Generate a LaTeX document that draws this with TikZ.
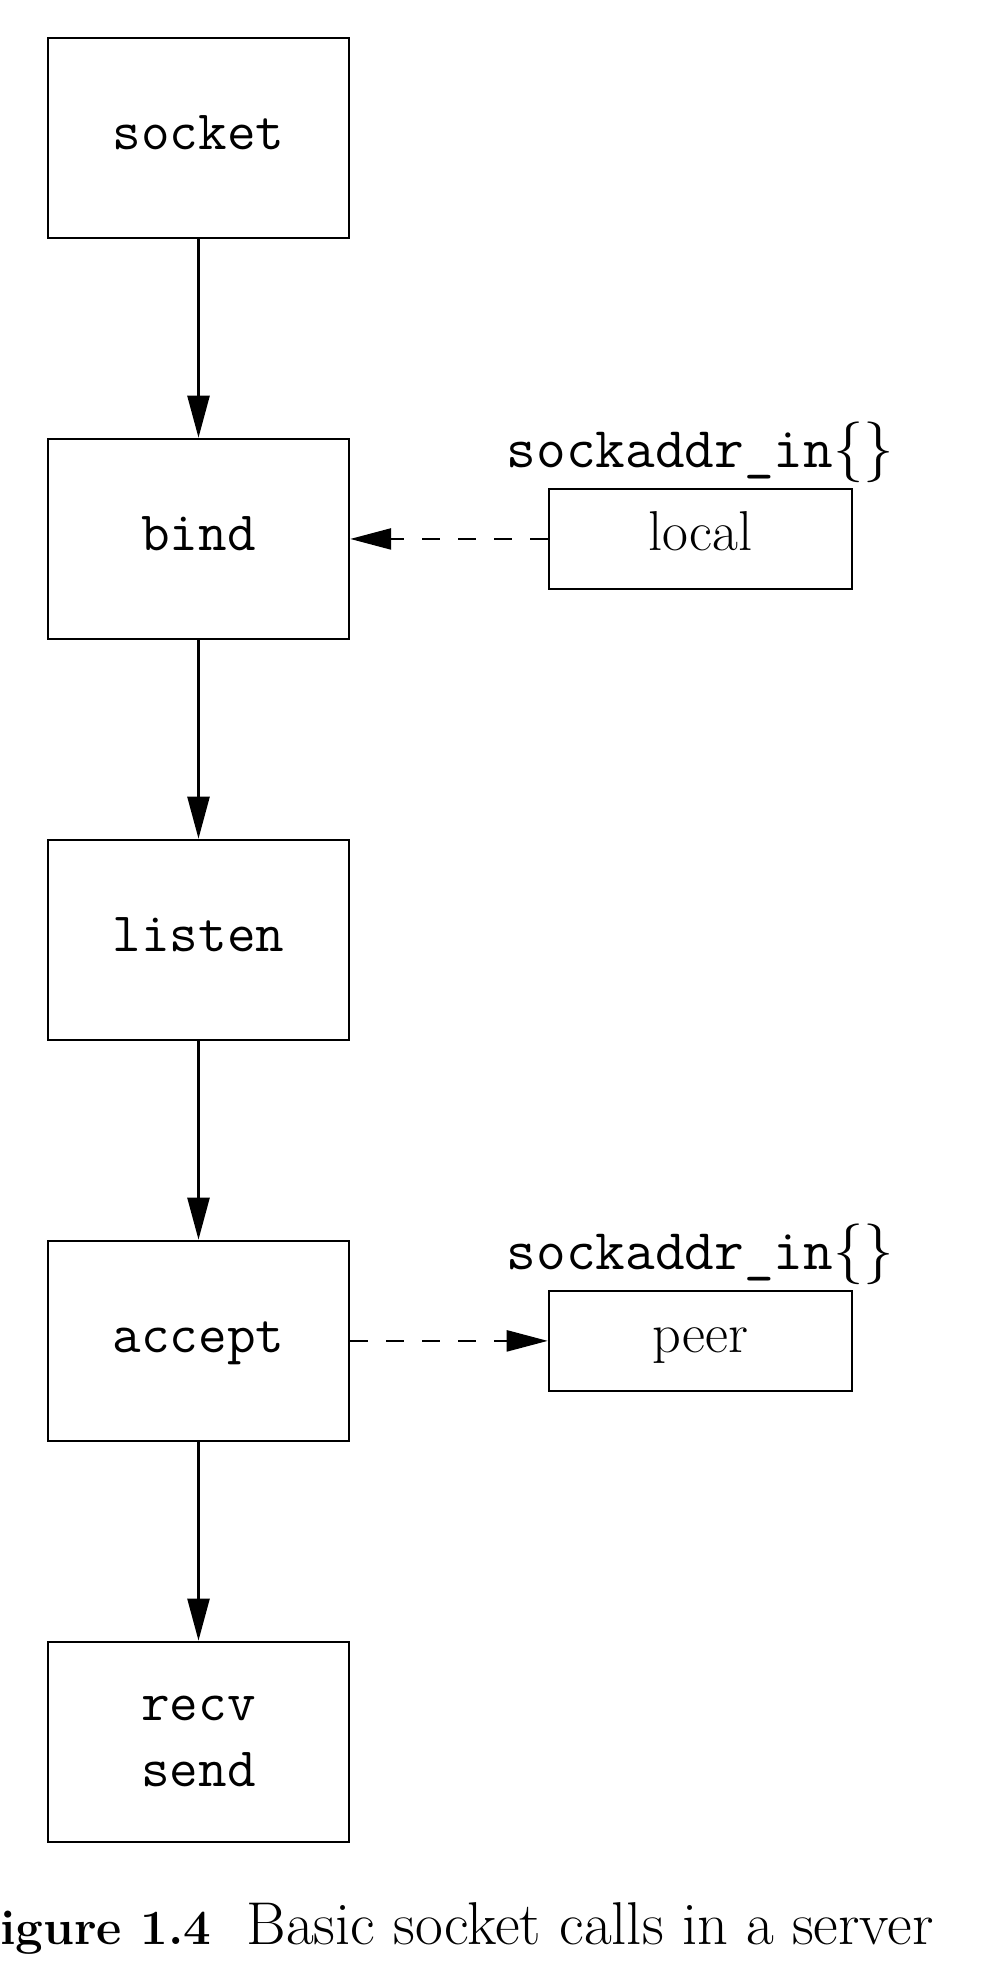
\documentclass[tikz,border=0pt]{standalone}
\usepackage{xcolor}
\usepackage{tikz}
\usetikzlibrary{arrows.meta,positioning}
\definecolor{lineblack}{RGB}{0,0,0}

\begin{document}
\begin{tikzpicture}[
  node distance=1.985cm,
  callbox/.style={draw=lineblack, line width=0.7pt, minimum width=3.01cm, minimum height=2cm, inner sep=0pt, align=center, font=\fontsize{15.8}{18.8}\selectfont\ttfamily},
  oneline/.style={text height=0.36cm, text depth=0.12cm},
  addrbox/.style={draw=lineblack, line width=0.7pt, minimum width=3.03cm, minimum height=1cm, inner sep=0pt, text height=0.35cm, text depth=0.11cm, font=\fontsize{16}{19}\selectfont},
  addrlabel/.style={inner sep=0pt, anchor=base, font=\fontsize{16.4}{19}\selectfont\ttfamily},
  callflow/.style={-{Triangle[length=4.2mm, width=2.2mm]}, line width=0.7pt, color=lineblack},
  addrflow/.style={-{Triangle[length=4.1mm, width=2.1mm]}, line width=0.7pt, color=lineblack, dash pattern=on 0.18cm off 0.18cm}
]
\useasboundingbox (0,0) rectangle (9.82,-19.84);
\node[callbox, oneline] (socket) at (1.985,-1.38) {socket};
\node[callbox, oneline, below=of socket] (bind) {bind};
\node[callbox, oneline, below=of bind] (listen) {listen};
\node[callbox, oneline, below=of listen] (accept) {accept};
\node[callbox, below=of accept] (recv) {recv\\send};
\node[addrbox, right=1.975cm of bind] (local) {local};
\node[addrlabel] (locallabel) at ([yshift=0.2cm]local.north) {sockaddr\_in$\{\}$};
\node[addrbox, right=1.975cm of accept] (peer) {peer};
\node[addrlabel] (peerlabel) at ([yshift=0.2cm]peer.north) {sockaddr\_in$\{\}$};
\draw[callflow] (socket) -- (bind);
\draw[callflow] (bind) -- (listen);
\draw[callflow] (listen) -- (accept);
\draw[callflow] (accept) -- (recv);
\draw[addrflow] (local) -- (bind);
\draw[addrflow] (accept) -- (peer);
\node[inner sep=0pt, anchor=base east, font=\fontsize{14}{17}\selectfont\bfseries] (capnum) at (2.12,-19.44) {Figure 1.4};
\node[inner sep=0pt, anchor=base west, font=\fontsize{17.2}{20}\selectfont] (captext) at (2.46,-19.44) {Basic socket calls in a server};
\end{tikzpicture}
\end{document}
